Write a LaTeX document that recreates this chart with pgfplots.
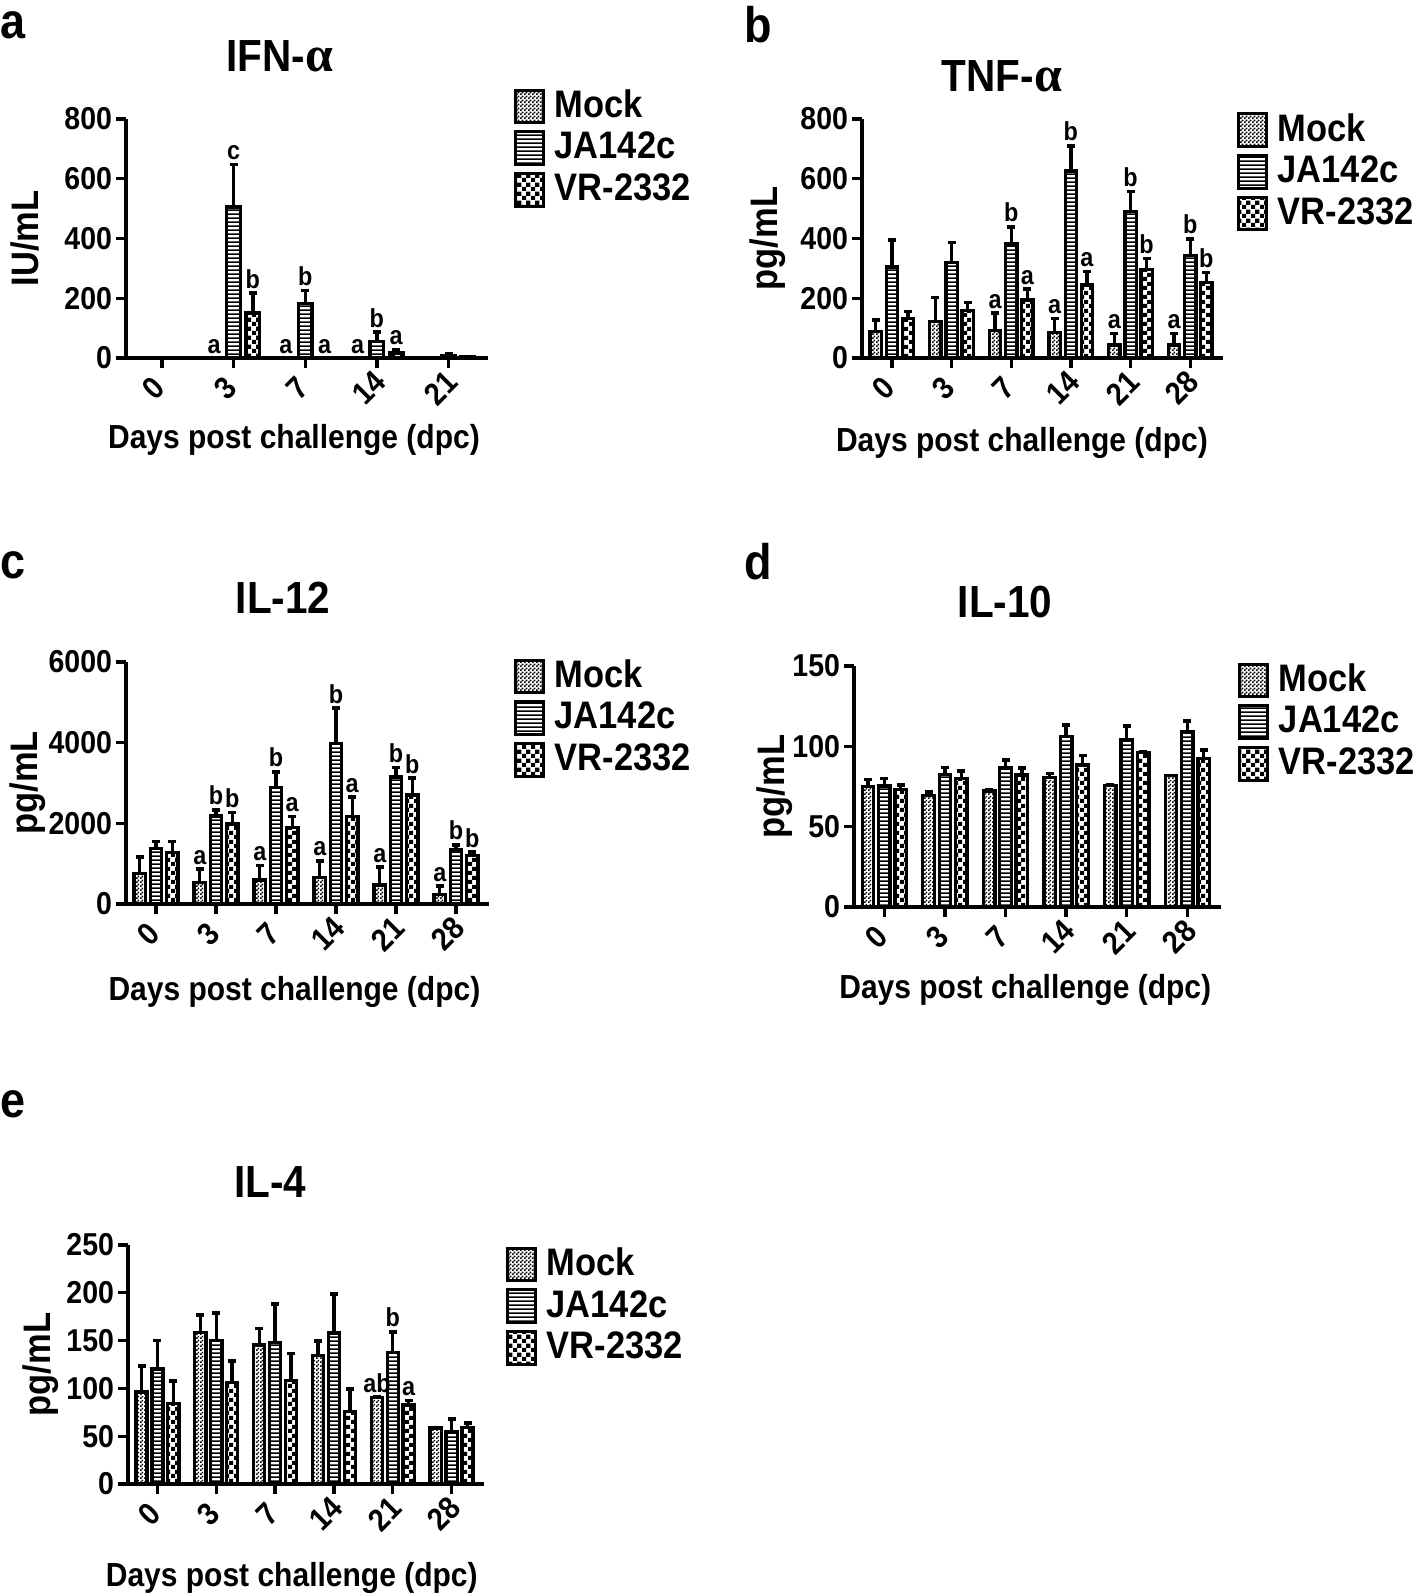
\documentclass[border=0pt]{standalone}
\usepackage{pgfplots}
\usepackage{pgfplotstable}
\pgfplotsset{compat=1.18}
\usepackage{fontspec}
\setmainfont{Liberation Sans}[FakeStretch=0.9]
\newfontfamily\serifalpha{Liberation Serif}
\usetikzlibrary{patterns}

\pgfdeclarepatternformonly{finecheck}{\pgfpointorigin}{\pgfqpoint{1.2pt}{1.2pt}}{\pgfqpoint{1.2pt}{1.2pt}}{%
  \pgfpathrectangle{\pgfpointorigin}{\pgfqpoint{0.6pt}{0.6pt}}%
  \pgfpathrectangle{\pgfqpoint{0.6pt}{0.6pt}}{\pgfqpoint{0.6pt}{0.6pt}}%
  \pgfusepath{fill}}
\pgfdeclarepatternformonly{coarsecheck}{\pgfpointorigin}{\pgfqpoint{2.7pt}{2.7pt}}{\pgfqpoint{2.7pt}{2.7pt}}{%
  \pgfpathrectangle{\pgfpointorigin}{\pgfqpoint{1.35pt}{1.35pt}}%
  \pgfpathrectangle{\pgfqpoint{1.35pt}{1.35pt}}{\pgfqpoint{1.35pt}{1.35pt}}%
  \pgfusepath{fill}}
\pgfdeclarepatternformonly{hlines}{\pgfpointorigin}{\pgfqpoint{100pt}{1.3pt}}{\pgfqpoint{100pt}{1.3pt}}{%
  \pgfsetlinewidth{0.5pt}%
  \pgfpathmoveto{\pgfqpoint{0pt}{0.65pt}}%
  \pgfpathlineto{\pgfqpoint{100pt}{0.65pt}}%
  \pgfusepath{stroke}}

\pgfplotstableread{
x m me j je v ve
0 0 0 0 0 0 0
1 0 0 505 143 150 67
2 0 0 183 43 0 0
3 0 0 56 30 17 11
4 0 0 8 5 3 0
}\tabA
\pgfplotstableread{
x m me j je v ve
0 89 39 304 90 132 24
1 121 81 319 67 158 28
2 93 57 381 58 194 36
3 86 46 626 84 244 45
4 43 39 490 67 297 36
5 43 39 343 56 252 34
}\tabB
\pgfplotstableread{
x m me j je v ve
0 761 398 1382 166 1283 265
1 538 323 2185 149 1987 281
2 596 356 2889 389 1896 273
3 654 414 3974 877 2169 480
4 472 439 3146 240 2699 422
5 240 207 1341 124 1200 83
}\tabC
\pgfplotstableread{
x m me j je v ve
0 74.8 4.6 75.4 4.6 73.1 2.7
1 69.2 2.3 82.5 4.3 80.0 4.6
2 72.1 1.0 86.6 5.0 82.1 4.5
3 80.4 2.7 106.0 7.2 88.3 6.0
4 75.8 0 104.3 8.5 96.0 0.6
5 81.9 0 109.0 6.9 92.5 5.2
}\tabD
\pgfplotstableread{
x m me j je v ve
0 96.2 27.0 120.3 29.9 84.3 23.4
1 158.5 18.0 149.9 29.1 106.3 22.3
2 145.5 17.3 147.7 40.3 108.1 28.4
3 134.7 14.8 157.8 41.0 75.6 23.8
4 90.8 0 137.6 21.6 82.5 4.7
5 58.4 0 54.8 13.3 59.4 4.4
}\tabE

\tikzset{sig/.style={anchor=south, inner sep=1.2pt, font=\fontsize{7.8}{8}\selectfont\bfseries},
         ttl/.style={font=\fontsize{13.5}{14}\selectfont\bfseries, inner sep=0pt},
         plet/.style={font=\fontsize{15}{15}\selectfont\bfseries, inner sep=0pt, anchor=west}}

\pgfplotsset{
  panel/.style={
    scale only axis, anchor=south west,
    ybar, bar width=0.19,
    axis x line*=bottom, axis y line*=left,
    axis line style={line width=1pt, black},
    every tick/.style={line width=1pt, black},
    tick align=outside, major tick length=3pt,
    ymin=0, xmin=-0.5, enlargelimits=false, clip=false,
    /pgf/number format/assume math mode=true,
    tick label style={font=\fontsize{9.5}{10}\selectfont\bfseries},
    yticklabel style={inner sep=1pt},
    xticklabel style={xshift=-2.4pt, yshift=-6pt, rotate=45, anchor=center, inner sep=0pt},
    xlabel style={font=\fontsize{10}{12}\selectfont\bfseries, anchor=center},
    ylabel style={font=\fontsize{11.5}{12}\selectfont\bfseries, anchor=center},
    xlabel={Days post challenge (dpc)},
    legend style={draw=none, fill=none, inner sep=0pt, anchor=north west,
      row sep=1.8pt, column sep=3pt,
      font=\fontsize{11.5}{12}\selectfont\bfseries,
      nodes={inner sep=0pt}},
    legend cell align=left,
    legend image code/.code={\draw[#1, line width=0.9pt] (0pt,-4.9pt) rectangle (8.4pt,4.9pt);},
  },
  bars/.style={draw=black, line width=1pt,
    error bars/y dir=plus, error bars/y explicit,
    error bars/error bar style={line width=1pt, black, solid},
    error bars/error mark options={rotate=90, mark size=1.2pt, line width=1.1pt, black}},
}

\begin{document}
\begin{tikzpicture}
\path[use as bounding box] (0,0) rectangle (425.4pt,478.5pt);

% ---------- a ----------
\begin{axis}[panel, at={(37.8pt,371.1pt)}, width=108.6pt, height=71.7pt,
  xmax=4.55, xtick={0,...,4}, xticklabels={0,3,7,14,21},
  ymax=800, ytick={0,200,400,600,800},
  ylabel={IU/mL}, ylabel style={at={(axis description cs:-0.279,0.5)}},
  xlabel style={at={(axis description cs:0.464,-0.345)}},
  legend style={at={(axis description cs:1.069,1.13)}}]
\addplot[bars, pattern=finecheck, bar shift=-0.27] table[x=x,y=m,y error=me]{\tabA};
\addplot[bars, pattern=hlines, bar shift=0] table[x=x,y=j,y error=je]{\tabA};
\addplot[bars, pattern=coarsecheck, bar shift=0.27] table[x=x,y=v,y error=ve]{\tabA};
\legend{Mock,JA142c,VR-2332}
\node[sig] at (axis cs:0.73,0) {a};
\node[sig] at (axis cs:1,648) {c};
\node[sig] at (axis cs:1.27,217) {b};
\node[sig] at (axis cs:1.73,0) {a};
\node[sig] at (axis cs:2,226) {b};
\node[sig] at (axis cs:2.27,0) {a};
\node[sig] at (axis cs:2.73,0) {a};
\node[sig] at (axis cs:3,86) {b};
\node[sig] at (axis cs:3.27,28) {a};
\end{axis}

% ---------- b ----------
\begin{axis}[panel, at={(258.6pt,371.1pt)}, width=108.3pt, height=71.7pt,
  xmax=5.55, xtick={0,...,5}, xticklabels={0,3,7,14,21,28},
  ymax=800, ytick={0,200,400,600,800},
  ylabel={pg/mL}, ylabel style={at={(axis description cs:-0.26,0.5)}},
  xlabel style={at={(axis description cs:0.443,-0.355)}},
  legend style={at={(axis description cs:1.036,1.03)}}]
\addplot[bars, pattern=finecheck, bar shift=-0.27] table[x=x,y=m,y error=me]{\tabB};
\addplot[bars, pattern=hlines, bar shift=0] table[x=x,y=j,y error=je]{\tabB};
\addplot[bars, pattern=coarsecheck, bar shift=0.27] table[x=x,y=v,y error=ve]{\tabB};
\legend{Mock,JA142c,VR-2332}
\node[sig] at (axis cs:1.73,150) {a};
\node[sig] at (axis cs:2,439) {b};
\node[sig] at (axis cs:2.27,230) {a};
\node[sig] at (axis cs:2.73,132) {a};
\node[sig] at (axis cs:3,710) {b};
\node[sig] at (axis cs:3.27,289) {a};
\node[sig] at (axis cs:3.73,82) {a};
\node[sig] at (axis cs:4,557) {b};
\node[sig] at (axis cs:4.27,333) {b};
\node[sig] at (axis cs:4.73,82) {a};
\node[sig] at (axis cs:5,399) {b};
\node[sig] at (axis cs:5.27,286) {b};
\end{axis}

% ---------- c ----------
\begin{axis}[panel, at={(37.8pt,207.3pt)}, width=108.9pt, height=72.6pt,
  xmax=5.55, xtick={0,...,5}, xticklabels={0,3,7,14,21,28},
  ymax=6000, ytick={0,2000,4000,6000}, yticklabels={0,2000,4000,6000},
  ylabel={pg/mL}, ylabel style={at={(axis description cs:-0.27,0.5)}},
  xlabel style={at={(axis description cs:0.464,-0.365)}},
  legend style={at={(axis description cs:1.066,1.017)}}]
\addplot[bars, pattern=finecheck, bar shift=-0.27] table[x=x,y=m,y error=me]{\tabC};
\addplot[bars, pattern=hlines, bar shift=0] table[x=x,y=j,y error=je]{\tabC};
\addplot[bars, pattern=coarsecheck, bar shift=0.27] table[x=x,y=v,y error=ve]{\tabC};
\legend{Mock,JA142c,VR-2332}
\node[sig] at (axis cs:0.73,861) {a};
\node[sig] at (axis cs:1,2334) {b};
\node[sig] at (axis cs:1.27,2268) {b};
\node[sig] at (axis cs:1.73,952) {a};
\node[sig] at (axis cs:2,3278) {b};
\node[sig] at (axis cs:2.27,2169) {a};
\node[sig] at (axis cs:2.73,1068) {a};
\node[sig] at (axis cs:3,4851) {b};
\node[sig] at (axis cs:3.27,2649) {a};
\node[sig] at (axis cs:3.73,911) {a};
\node[sig] at (axis cs:4,3386) {b};
\node[sig] at (axis cs:4.27,3121) {b};
\node[sig] at (axis cs:4.73,447) {a};
\node[sig] at (axis cs:5,1465) {b};
\node[sig] at (axis cs:5.27,1283) {b};
\end{axis}

% ---------- d ----------
\begin{axis}[panel, at={(256.2pt,206.4pt)}, width=110pt, height=72.3pt,
  xmax=5.55, xtick={0,...,5}, xticklabels={0,3,7,14,21,28},
  ymax=150, ytick={0,50,100,150},
  ylabel={pg/mL}, ylabel style={at={(axis description cs:-0.216,0.5)}},
  xlabel style={at={(axis description cs:0.467,-0.345)}},
  legend style={at={(axis description cs:1.045,1.017)}}]
\addplot[bars, pattern=finecheck, bar shift=-0.27] table[x=x,y=m,y error=me]{\tabD};
\addplot[bars, pattern=hlines, bar shift=0] table[x=x,y=j,y error=je]{\tabD};
\addplot[bars, pattern=coarsecheck, bar shift=0.27] table[x=x,y=v,y error=ve]{\tabD};
\legend{Mock,JA142c,VR-2332}
\end{axis}

% ---------- e ----------
\begin{axis}[panel, at={(38.4pt,33.3pt)}, width=106.8pt, height=71.7pt,
  xmax=5.55, xtick={0,...,5}, xticklabels={0,3,7,14,21,28},
  ymax=250, ytick={0,50,100,150,200,250},
  ylabel={pg/mL}, ylabel style={at={(axis description cs:-0.244,0.5)}},
  xlabel style={at={(axis description cs:0.46,-0.395)}},
  legend style={at={(axis description cs:1.059,0.996)}}]
\addplot[bars, pattern=finecheck, bar shift=-0.27] table[x=x,y=m,y error=me]{\tabE};
\addplot[bars, pattern=hlines, bar shift=0] table[x=x,y=j,y error=je]{\tabE};
\addplot[bars, pattern=coarsecheck, bar shift=0.27] table[x=x,y=v,y error=ve]{\tabE};
\legend{Mock,JA142c,VR-2332}
\node[sig] at (axis cs:3.73,90.8) {ab};
\node[sig] at (axis cs:4,159.2) {b};
\node[sig] at (axis cs:4.27,87.2) {a};
\end{axis}

% ---------- titles and panel letters ----------
\node[ttl] at (84pt,461.7pt) {IFN-{\serifalpha\fontsize{15}{15}\selectfont α}};
\node[ttl] at (300.6pt,455.7pt) {TNF-{\serifalpha\fontsize{15}{15}\selectfont α}};
\node[ttl] at (84.9pt,299.1pt) {IL-12};
\node[ttl] at (301.5pt,297.9pt) {IL-10};
\node[ttl] at (81pt,123.9pt) {IL-4};
\node[plet] at (0pt,471pt) {a};
\node[plet] at (223pt,471pt) {b};
\node[plet] at (0pt,309pt) {c};
\node[plet] at (223pt,309.9pt) {d};
\node[plet] at (0pt,147.3pt) {e};
\end{tikzpicture}
\end{document}
